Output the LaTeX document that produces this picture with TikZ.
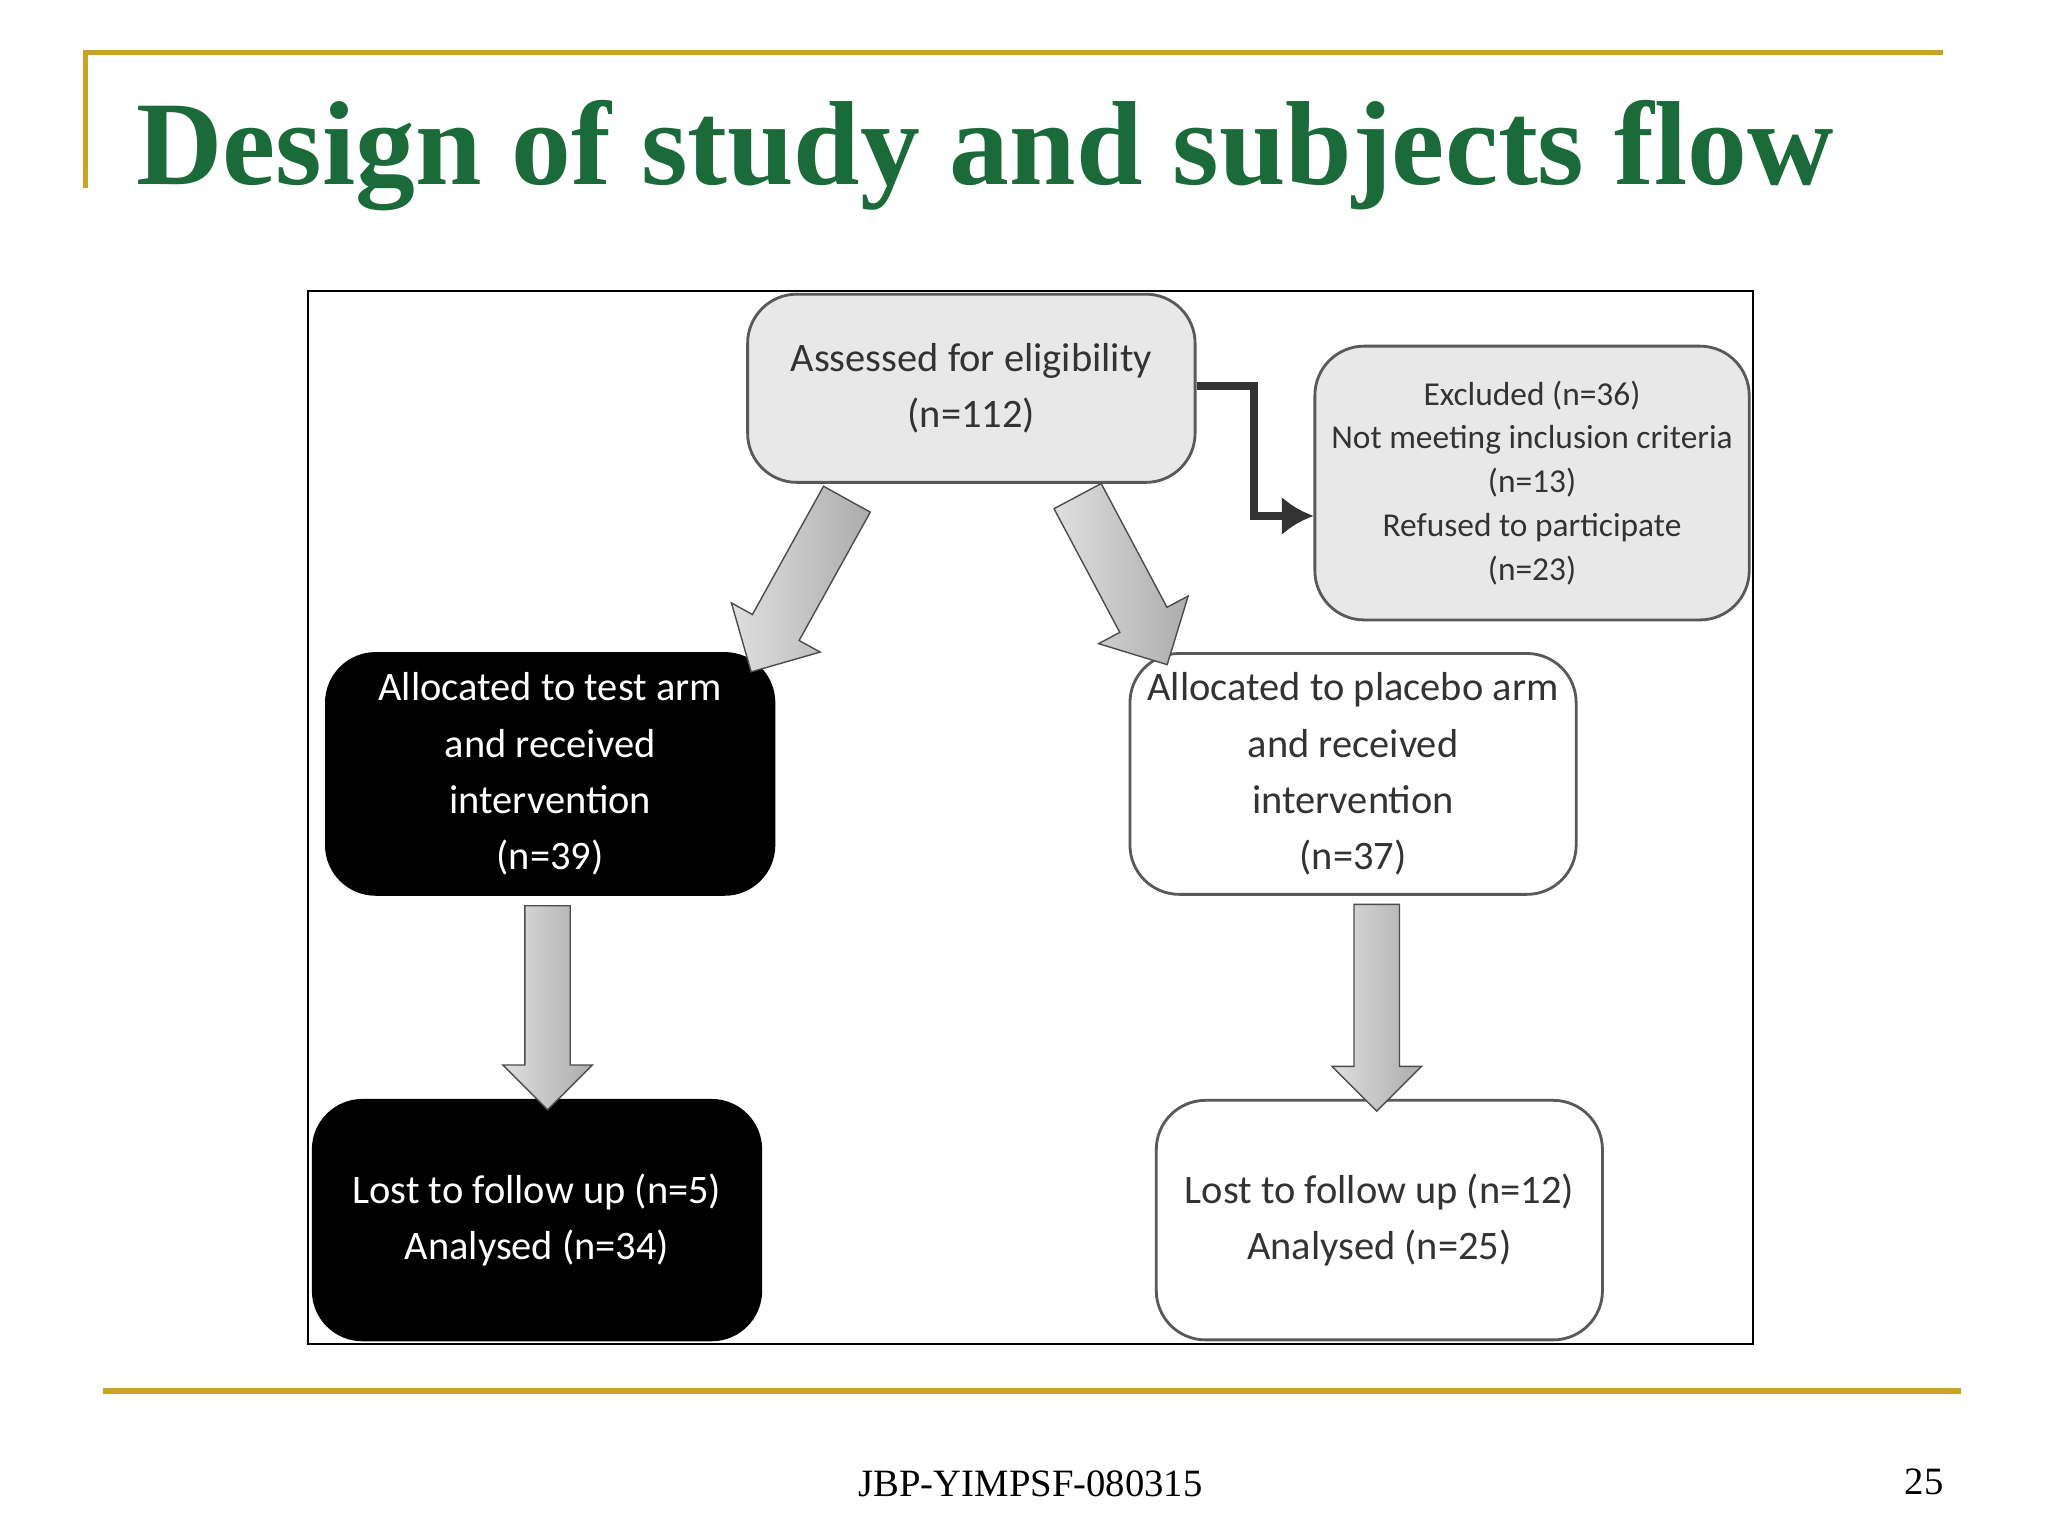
\documentclass[tikz,border=0pt]{standalone}
\usepackage{fontspec}
\setmainfont{Liberation Serif}
\newfontfamily\carl{Carlito}
\usetikzlibrary{shapes.arrows,arrows.meta}
\definecolor{gold}{HTML}{C9A227}
\definecolor{ttl}{HTML}{1B6B3A}
\definecolor{boxtxt}{HTML}{333333}
\begin{document}
\begin{tikzpicture}[x=0.01316cm,y=-0.01316cm,
  box/.style={draw=gray!70!black,rounded corners=14pt,line width=0.8pt,align=center,font=\carl\fontsize{11.5}{16}\selectfont},
  gbox/.style={box,fill=gray!18,text=boxtxt},
  bbox/.style={box,fill=black,text=white,draw=black},
  wbox/.style={box,fill=white,text=boxtxt},
  barrow/.style={single arrow,draw=gray!60!black,line width=0.4pt,top color=gray!25,bottom color=gray!65,shading angle=90,single arrow head extend=0.24cm,single arrow head indent=0pt,inner sep=0pt}]
\useasboundingbox (0,0) rectangle (1556,1167);
\fill[white] (0,0) rectangle (1556,1167);
\draw[gold,line width=1.6pt] (65,143) -- (65,40) -- (1476,40);
\draw[gold,line width=1.8pt] (78,1057) -- (1490,1057);
\node[anchor=base west,text=ttl,font=\bfseries\fontsize{34}{40}\selectfont] (title) at (94,140) {Design of study and subjects flow};
\node[font=\fontsize{11}{13}\selectfont] (foot) at (783,1127) {JBP-YIMPSF-080315};
\node[font=\fontsize{11}{13}\selectfont] (pg) at (1462,1126) {25};
\draw[line width=0.6pt] (234,221) rectangle (1332,1021);
\node[gbox,minimum width=340*0.01316cm,minimum height=143*0.01316cm] (A) at (738,295) {Assessed for eligibility\\(n=112)};
\node[gbox,minimum width=330*0.01316cm,minimum height=208*0.01316cm,font=\carl\fontsize{9.5}{12.5}\selectfont] (E) at (1164,367) {Excluded (n=36)\\Not meeting inclusion criteria\\(n=13)\\Refused to participate\\(n=23)};
\node[bbox,minimum width=340*0.01316cm,minimum height=183*0.01316cm] (T) at (418,588) {Allocated to test arm\\and received\\intervention\\(n=39)};
\node[wbox,minimum width=339*0.01316cm,minimum height=183*0.01316cm] (P) at (1028,588) {Allocated to placebo arm\\and received\\intervention\\(n=37)};
\node[bbox,minimum width=340*0.01316cm,minimum height=182*0.01316cm] (TL) at (408,927) {Lost to follow up (n=5)\\Analysed (n=34)};
\node[wbox,minimum width=339*0.01316cm,minimum height=182*0.01316cm] (PL) at (1048,927) {Lost to follow up (n=12)\\Analysed (n=25)};
\coordinate (e1) at (953,293);
\coordinate (e2) at (997,392);
\draw[gray!40!black,line width=2.2pt,-{Latex[length=9pt,width=11pt]}] (A.east |- e1) -- (e1) |- (E.west |- e2);
\node[barrow,rotate=-119,minimum height=150*0.01316cm] (a1) at (612,436) {\rule{0pt}{0.52cm}};
\node[barrow,rotate=-62,minimum height=145*0.01316cm] (a2) at (848,432) {\rule{0pt}{0.52cm}};
\node[barrow,rotate=-90,minimum height=155*0.01316cm,single arrow head extend=0.22cm] (a3) at (416,757) {\rule{0pt}{0.44cm}};
\node[barrow,rotate=-90,minimum height=157*0.01316cm,single arrow head extend=0.22cm] (a4) at (1046,757) {\rule{0pt}{0.44cm}};
\end{tikzpicture}
\end{document}
